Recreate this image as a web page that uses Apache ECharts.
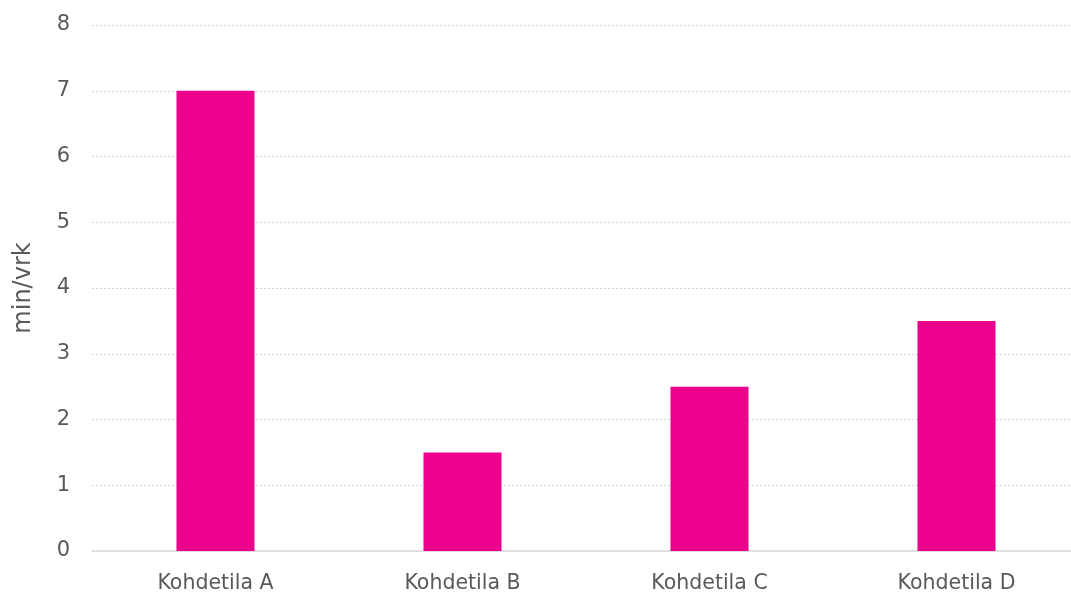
<!DOCTYPE html>
<html>
<head>
<meta charset="utf-8">
<script src="https://cdn.jsdelivr.net/npm/echarts@6/dist/echarts.min.js"></script>
<style>
  html, body { margin: 0; padding: 0; background: #fff; overflow: hidden; width: 1071px; height: 594px; }
  /* plot area runs slightly past the right edge of the window */
  #chart { width: 1080px; height: 594px; }
</style>
</head>
<body>
<div id="chart"></div>
<script>
const categories = ['Kohdetila A', 'Kohdetila B', 'Kohdetila C', 'Kohdetila D'];
const minutesPerDay = [7, 1.5, 2.5, 3.5];
const yAxisTitle = 'min/vrk';

const textColor = '#595959';
const fontFamily = 'DejaVu Sans, Verdana, sans-serif';

const chart = echarts.init(document.getElementById('chart'), null, { renderer: 'canvas' });
chart.setOption({
  animation: false,
  backgroundColor: '#ffffff',
  grid: { left: 92, top: 25, right: 0, bottom: 43, containLabel: false },
  xAxis: {
    type: 'category',
    data: categories,
    axisLine: { lineStyle: { color: '#d9d9d9', width: 1.5 } },
    axisTick: { show: false },
    axisLabel: { color: textColor, fontSize: 20.5, fontFamily: fontFamily, margin: 22 }
  },
  yAxis: {
    type: 'value',
    min: 0,
    max: 8,
    interval: 1,
    name: yAxisTitle,
    nameLocation: 'middle',
    nameGap: 56,
    nameTextStyle: { color: textColor, fontSize: 24, fontFamily: fontFamily },
    axisLine: { show: false },
    axisTick: { show: false },
    axisLabel: { color: textColor, fontSize: 21, fontFamily: fontFamily, margin: 22, padding: [4, 0, 0, 0] },
    splitLine: { lineStyle: { color: '#d6d6d6', type: [2, 2], width: 1 } }
  },
  series: [{
    type: 'bar',
    data: minutesPerDay,
    barWidth: 78,
    itemStyle: { color: '#EC008C' }
  }]
});
</script>
</body>
</html>
